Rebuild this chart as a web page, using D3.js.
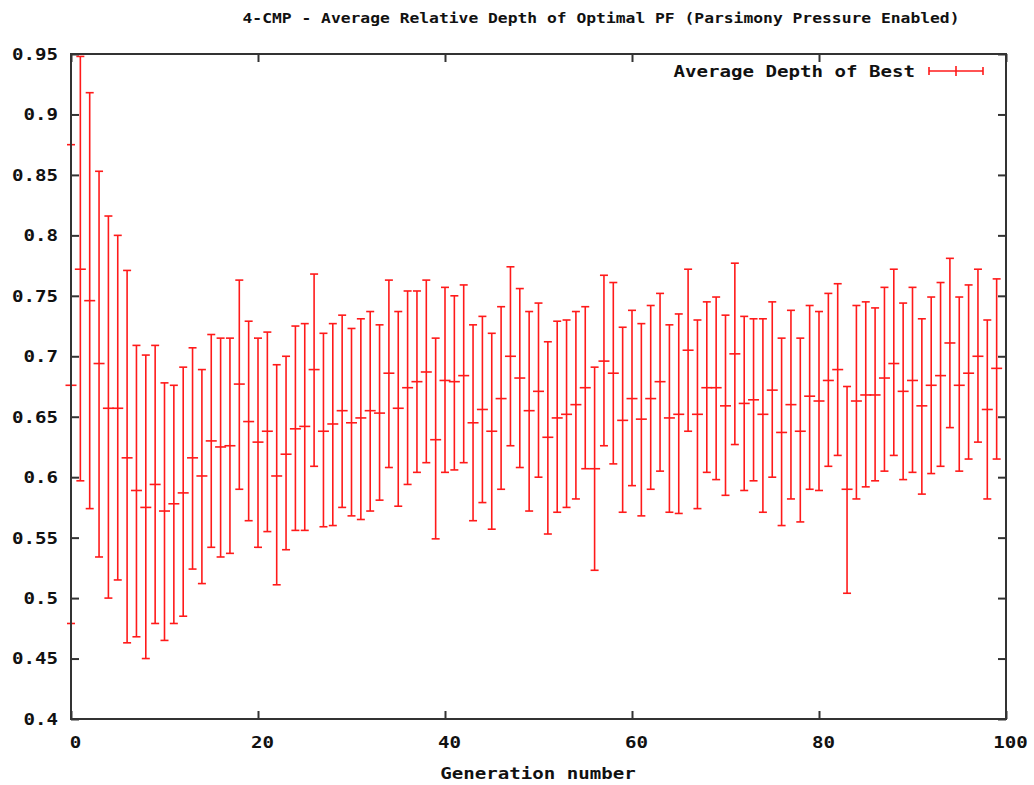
<!DOCTYPE html>
<html>
<head>
<meta charset="utf-8">
<script src="https://cdn.jsdelivr.net/npm/d3@7"></script>
<style>
  html, body { margin: 0; padding: 0; background: #fff; }
  svg { display: block; }
  text { font-family: "DejaVu Sans Mono", "Liberation Mono", monospace; font-weight: bold; fill: #111; }
</style>
</head>
<body>
<svg id="chart" width="1034" height="785"></svg>
<script>
// Generation index for each sample
const generations = [
  0, 1, 2, 3, 4, 5, 6, 7, 8, 9,
  10, 11, 12, 13, 14, 15, 16, 17, 18, 19,
  20, 21, 22, 23, 24, 25, 26, 27, 28, 29,
  30, 31, 32, 33, 34, 35, 36, 37, 38, 39,
  40, 41, 42, 43, 44, 45, 46, 47, 48, 49,
  50, 51, 52, 53, 54, 55, 56, 57, 58, 59,
  60, 61, 62, 63, 64, 65, 66, 67, 68, 69,
  70, 71, 72, 73, 74, 75, 76, 77, 78, 79,
  80, 81, 82, 83, 84, 85, 86, 87, 88, 89,
  90, 91, 92, 93, 94, 95, 96, 97, 98, 99
];

// Average relative depth of the best individual
const meanDepth = [
  0.676, 0.772, 0.746, 0.694, 0.657, 0.657, 0.616, 0.589, 0.575, 0.594,
  0.572, 0.578, 0.587, 0.616, 0.601, 0.630, 0.625, 0.626, 0.677, 0.646,
  0.629, 0.638, 0.601, 0.619, 0.640, 0.642, 0.689, 0.638, 0.644, 0.655,
  0.645, 0.649, 0.655, 0.653, 0.686, 0.657, 0.674, 0.679, 0.687, 0.631,
  0.680, 0.679, 0.684, 0.645, 0.656, 0.638, 0.665, 0.700, 0.682, 0.655,
  0.671, 0.633, 0.649, 0.652, 0.660, 0.674, 0.607, 0.696, 0.686, 0.647,
  0.665, 0.648, 0.665, 0.679, 0.649, 0.652, 0.705, 0.652, 0.674, 0.674,
  0.659, 0.702, 0.661, 0.664, 0.652, 0.672, 0.637, 0.660, 0.638, 0.667,
  0.663, 0.680, 0.689, 0.590, 0.663, 0.668, 0.668, 0.682, 0.694, 0.671,
  0.680, 0.659, 0.676, 0.684, 0.711, 0.676, 0.686, 0.700, 0.656, 0.690
];

// Lower end of each error bar
const lowDepth = [
  0.479, 0.597, 0.574, 0.534, 0.500, 0.515, 0.463, 0.468, 0.450, 0.479,
  0.465, 0.479, 0.485, 0.524, 0.512, 0.542, 0.534, 0.537, 0.590, 0.564,
  0.542, 0.555, 0.511, 0.540, 0.556, 0.556, 0.609, 0.559, 0.560, 0.575,
  0.568, 0.565, 0.572, 0.581, 0.608, 0.576, 0.594, 0.604, 0.612, 0.549,
  0.604, 0.606, 0.612, 0.564, 0.579, 0.557, 0.590, 0.626, 0.608, 0.572,
  0.600, 0.553, 0.571, 0.575, 0.582, 0.607, 0.523, 0.626, 0.611, 0.571,
  0.593, 0.568, 0.590, 0.605, 0.571, 0.570, 0.638, 0.574, 0.604, 0.598,
  0.585, 0.627, 0.589, 0.597, 0.571, 0.600, 0.560, 0.582, 0.563, 0.590,
  0.589, 0.609, 0.618, 0.504, 0.582, 0.592, 0.597, 0.605, 0.618, 0.598,
  0.604, 0.586, 0.603, 0.609, 0.641, 0.605, 0.615, 0.629, 0.582, 0.615
];

// Upper end of each error bar
const highDepth = [
  0.875, 0.948, 0.918, 0.853, 0.816, 0.800, 0.771, 0.709, 0.701, 0.709,
  0.678, 0.676, 0.691, 0.707, 0.689, 0.718, 0.715, 0.715, 0.763, 0.729,
  0.715, 0.720, 0.693, 0.700, 0.725, 0.727, 0.768, 0.719, 0.727, 0.734,
  0.723, 0.731, 0.737, 0.726, 0.763, 0.737, 0.754, 0.754, 0.763, 0.715,
  0.757, 0.750, 0.759, 0.726, 0.733, 0.719, 0.741, 0.774, 0.756, 0.737,
  0.744, 0.712, 0.729, 0.730, 0.737, 0.741, 0.691, 0.767, 0.761, 0.724,
  0.738, 0.727, 0.742, 0.752, 0.726, 0.735, 0.772, 0.730, 0.745, 0.749,
  0.734, 0.777, 0.733, 0.731, 0.731, 0.745, 0.715, 0.738, 0.715, 0.742,
  0.737, 0.752, 0.760, 0.675, 0.742, 0.745, 0.740, 0.757, 0.772, 0.744,
  0.757, 0.731, 0.749, 0.761, 0.781, 0.749, 0.759, 0.772, 0.730, 0.764
];

const xTickValues = [0, 20, 40, 60, 80, 100];
const yTickValues = [0.4, 0.45, 0.5, 0.55, 0.6, 0.65, 0.7, 0.75, 0.8, 0.85, 0.9, 0.95];

const titleText = "4-CMP - Average Relative Depth of Optimal PF (Parsimony Pressure Enabled)";
const xLabelText = "Generation number";
const legendText = "Average Depth of Best";

const svg = d3.select("#chart");
const plot = { left: 71, right: 1006, top: 54, bottom: 719 };
const red = "#ff1a1a";
const frameColor = "#333";
const charPitch = 11.5;

const x = d3.scaleLinear().domain([0, 100]).range([plot.left, plot.right]);
const y = d3.scaleLinear().domain([0.4, 0.95]).range([plot.bottom, plot.top]);

const rows = generations.map((g, i) => ({ g, mean: meanDepth[i], lo: lowDepth[i], hi: highDepth[i] }));

// Error bars
const capW = 8, meanW = 11;
const bars = svg.append("g").attr("stroke", red).attr("stroke-width", 1.6).attr("fill", "none");
const bar = bars.selectAll("g.bar").data(rows).join("g").attr("class", "bar");
bar.append("line")
  .attr("x1", d => x(d.g)).attr("x2", d => x(d.g))
  .attr("y1", d => y(d.lo)).attr("y2", d => y(d.hi));
bar.append("line")
  .attr("x1", d => x(d.g) - capW / 2).attr("x2", d => x(d.g) + capW / 2)
  .attr("y1", d => y(d.lo)).attr("y2", d => y(d.lo));
bar.append("line")
  .attr("x1", d => x(d.g) - capW / 2).attr("x2", d => x(d.g) + capW / 2)
  .attr("y1", d => y(d.hi)).attr("y2", d => y(d.hi));
bar.append("line")
  .attr("x1", d => x(d.g) - meanW / 2).attr("x2", d => x(d.g) + meanW / 2)
  .attr("y1", d => y(d.mean)).attr("y2", d => y(d.mean));

// Axes with inward ticks, mirrored on all four sides
const tickLen = 8;
function styleAxis(g) {
  g.select(".domain").remove();
  g.selectAll(".tick line").attr("stroke", frameColor).attr("stroke-width", 2);
}

const yAxis = svg.append("g")
  .attr("transform", `translate(${plot.left},0)`)
  .call(d3.axisLeft(y).tickValues(yTickValues).tickFormat(d => String(+d.toFixed(2)))
    .tickSizeInner(-tickLen).tickSizeOuter(0).tickPadding(13))
  .call(styleAxis);
yAxis.selectAll(".tick text")
  .attr("font-size", 15).attr("dy", "0.36em")
  .attr("textLength", function () { return this.textContent.length * charPitch; })
  .attr("lengthAdjust", "spacingAndGlyphs");

svg.append("g")
  .attr("transform", `translate(${plot.right},0)`)
  .call(d3.axisRight(y).tickValues(yTickValues).tickFormat("")
    .tickSizeInner(-tickLen).tickSizeOuter(0))
  .call(styleAxis);

const xAxis = svg.append("g")
  .attr("transform", `translate(0,${plot.bottom})`)
  .call(d3.axisBottom(x).tickValues(xTickValues).tickFormat(d3.format("d"))
    .tickSizeInner(-tickLen).tickSizeOuter(0).tickPadding(18))
  .call(styleAxis);
xAxis.selectAll(".tick text")
  .attr("font-size", 15).attr("dy", "0.71em").attr("dx", 4)
  .attr("textLength", function () { return this.textContent.length * charPitch; })
  .attr("lengthAdjust", "spacingAndGlyphs");

svg.append("g")
  .attr("transform", `translate(0,${plot.top})`)
  .call(d3.axisTop(x).tickValues(xTickValues).tickFormat("")
    .tickSizeInner(-tickLen).tickSizeOuter(0))
  .call(styleAxis);

// Plot frame drawn over the bars
svg.append("rect")
  .attr("x", plot.left).attr("y", plot.top)
  .attr("width", plot.right - plot.left).attr("height", plot.bottom - plot.top)
  .attr("fill", "none").attr("stroke", frameColor).attr("stroke-width", 2);

// Title
svg.append("text")
  .attr("x", 601).attr("y", 23)
  .attr("text-anchor", "middle").attr("font-size", 14)
  .attr("textLength", 717).attr("lengthAdjust", "spacingAndGlyphs")
  .text(titleText);

// X axis label
svg.append("text")
  .attr("x", 538).attr("y", 779)
  .attr("text-anchor", "middle").attr("font-size", 15)
  .attr("textLength", xLabelText.length * charPitch).attr("lengthAdjust", "spacingAndGlyphs")
  .text(xLabelText);

// Legend
const legendY = 71;
svg.append("text")
  .attr("x", 915).attr("y", legendY + 5.5)
  .attr("text-anchor", "end").attr("font-size", 15)
  .attr("textLength", legendText.length * charPitch).attr("lengthAdjust", "spacingAndGlyphs")
  .text(legendText);
const lg = svg.append("g").attr("stroke", red).attr("stroke-width", 1.6);
lg.append("line").attr("x1", 929).attr("x2", 983).attr("y1", legendY).attr("y2", legendY);
lg.append("line").attr("x1", 929).attr("x2", 929).attr("y1", legendY - 4).attr("y2", legendY + 4);
lg.append("line").attr("x1", 983).attr("x2", 983).attr("y1", legendY - 4).attr("y2", legendY + 4);
lg.append("line").attr("x1", 956).attr("x2", 956).attr("y1", legendY - 5).attr("y2", legendY + 5);
</script>
</body>
</html>
